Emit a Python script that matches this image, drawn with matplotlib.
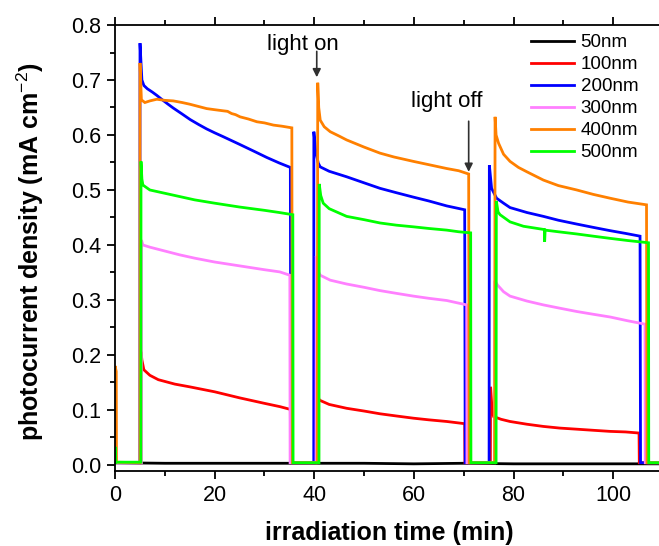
import matplotlib
matplotlib.use("Agg")
import matplotlib.pyplot as plt
from matplotlib.ticker import MultipleLocator

plt.rcParams['font.family'] = ['Liberation Sans', 'DejaVu Sans']
plt.rcParams['mathtext.fontset'] = 'custom'
plt.rcParams['mathtext.rm'] = 'Liberation Sans'
plt.rcParams['mathtext.it'] = 'Liberation Sans'
plt.rcParams['mathtext.bf'] = 'Liberation Sans:bold'

labels = ['50nm', '100nm', '200nm', '300nm', '400nm', '500nm']
colors = ['#000000', '#FF0000', '#0000FF', '#FF80FF', '#FF8000', '#00FF00']

# 50nm
t_50 = [0, 10, 20, 30, 40, 50, 60, 70, 80, 90, 100, 110]
v_50 = [0.004, 0.003, 0.003, 0.003, 0.003, 0.003, 0.002, 0.003, 0.002, 0.002, 0.002, 0.002]

# 100nm
t_100 = [0, 5.2, 5.22, 5.4, 5.8, 7, 8.7, 12, 15, 20, 25, 30, 33.1, 35.2, 35.25,
         40.15, 40.2, 40.6, 41, 43, 46.5, 50, 53.2, 56.5, 59.9, 63, 66.6, 70.2, 70.25,
         75.35, 75.4, 75.7, 76, 77.5, 79.3, 82.7, 86, 89.3, 92.7, 96, 99.4, 102.5, 105.2, 105.25, 110]
v_100 = [0.004, 0.004, 0.206, 0.191, 0.173, 0.163, 0.155, 0.147, 0.142, 0.133, 0.122, 0.112, 0.106, 0.101, 0.004,
         0.004, 0.167, 0.13, 0.118, 0.11, 0.103, 0.098, 0.093, 0.089, 0.085, 0.082, 0.079, 0.075, 0.004,
         0.004, 0.142, 0.1, 0.088, 0.083, 0.079, 0.074, 0.07, 0.067, 0.065, 0.063, 0.061, 0.06, 0.058, 0.004, 0.004]

# 200nm
t_200 = [0, 5.0, 5.02, 5.4, 5.8, 6.5, 7.5, 8.4, 9.5, 10.5, 11.7, 13.5, 15.1, 16.8, 18.4, 20, 21.7, 25, 28, 30.5, 33, 35.2, 35.3,
         39.9, 39.92, 40.3, 40.8, 41.2, 43, 46.5, 50, 53.2, 56.5, 59.9, 63, 66.6, 70.2, 70.3,
         75.1, 75.15, 75.6, 76.6, 78, 79.3, 82.7, 86, 89, 92.7, 96, 99.4, 102.5, 105.4, 105.5, 110]
v_200 = [0.004, 0.004, 0.767, 0.7, 0.69, 0.684, 0.678, 0.672, 0.664, 0.657, 0.649, 0.638, 0.628, 0.619, 0.611, 0.604, 0.597, 0.583, 0.57, 0.559, 0.549, 0.541, 0.004,
         0.004, 0.606, 0.57, 0.549, 0.542, 0.534, 0.524, 0.513, 0.503, 0.495, 0.487, 0.48, 0.471, 0.464, 0.004,
         0.004, 0.545, 0.503, 0.485, 0.476, 0.468, 0.459, 0.452, 0.445, 0.438, 0.432, 0.426, 0.421, 0.416, 0.004, 0.004]

# 300nm
t_300 = [0, 5.3, 5.32, 5.6, 7, 10, 13, 16, 20, 25, 30, 33.1, 35.1, 35.15,
         40.35, 40.4, 40.8, 41.2, 43.2, 46.5, 50, 53.2, 56.5, 59.9, 63, 66.6, 70.6, 70.65,
         76.2, 76.25, 76.8, 78, 79.3, 82.7, 86, 89.3, 92.7, 96, 99.4, 103, 106.4, 106.45, 110]
v_300 = [0.004, 0.004, 0.409, 0.4, 0.396, 0.389, 0.382, 0.376, 0.369, 0.362, 0.355, 0.351, 0.345, 0.004,
         0.004, 0.38, 0.352, 0.345, 0.336, 0.329, 0.323, 0.317, 0.312, 0.307, 0.303, 0.299, 0.291, 0.004,
         0.004, 0.335, 0.327, 0.315, 0.307, 0.298, 0.291, 0.285, 0.279, 0.274, 0.269, 0.262, 0.256, 0.004, 0.004]

# 400nm
t_400 = [0, 0.02, 0.25, 0.3, 5.0, 5.02, 5.3, 6.0, 7.0, 8.4, 10, 11.7, 13.5, 15, 16.7, 18.4, 20, 21.7, 22.6, 23.4, 24.2, 25.1,
         26.8, 28.5, 30, 31.8, 33.5, 35.5, 35.6,
         40.6, 40.7, 40.9, 41.2, 42, 43.2, 45, 46.5, 50, 53.2, 56, 59.9, 63, 66.6, 69, 71.0, 71.1,
         76.2, 76.3, 76.5, 77, 78, 79.3, 81, 82.7, 86, 89, 92.7, 96, 99.4, 103, 106.7, 106.8, 110]
v_400 = [0.004, 0.18, 0.17, 0.005, 0.004, 0.731, 0.664, 0.659, 0.662, 0.665, 0.663, 0.662, 0.659, 0.656, 0.652, 0.648, 0.646, 0.644, 0.643, 0.639, 0.637, 0.633,
         0.629, 0.624, 0.622, 0.618, 0.616, 0.613, 0.004,
         0.004, 0.695, 0.65, 0.627, 0.615, 0.606, 0.598, 0.591, 0.578, 0.567, 0.56, 0.552, 0.546, 0.539, 0.535, 0.529, 0.004,
         0.004, 0.633, 0.6, 0.585, 0.565, 0.552, 0.541, 0.533, 0.518, 0.508, 0.5, 0.492, 0.485, 0.478, 0.473, 0.004, 0.004]

# 500nm
t_500 = [0, 0.02, 0.1, 0.15, 5.2, 5.22, 5.4, 5.6, 7, 10, 13, 16, 20, 25, 30, 33, 35.7, 35.75,
         40.95, 41.0, 41.3, 41.8, 43, 46.5, 50, 53.2, 56.5, 59.9, 63, 66.6, 69, 71.4, 71.45,
         76.5, 76.55, 76.9, 77.3, 79.3, 82, 86.2, 86.25, 86.35, 89, 92.7, 96, 99.4, 103, 107.1, 107.15, 110]
v_500 = [0.004, 0.033, 0.02, 0.005, 0.005, 0.552, 0.52, 0.509, 0.5, 0.494, 0.488, 0.482, 0.476, 0.469, 0.463, 0.459, 0.455, 0.004,
         0.004, 0.511, 0.49, 0.476, 0.466, 0.452, 0.446, 0.44, 0.436, 0.433, 0.43, 0.427, 0.424, 0.422, 0.004,
         0.004, 0.48, 0.46, 0.455, 0.442, 0.434, 0.428, 0.406, 0.427, 0.424, 0.42, 0.416, 0.412, 0.408, 0.404, 0.004, 0.004]

series_t = [t_50, t_100, t_200, t_300, t_400, t_500]
series_v = [v_50, v_100, v_200, v_300, v_400, v_500]

fig = plt.figure(figsize=(6.59, 5.46), dpi=100)
ax = fig.add_axes([0.1745, 0.1374, 0.8315, 0.8168])

for t, v, c, lab in zip(series_t, series_v, colors, labels):
    ax.plot(t, v, color=c, lw=2.0, label=lab, solid_joinstyle='miter')

ax.set_xlim(0, 110)
ax.set_ylim(-0.011, 0.8)
ax.xaxis.set_major_locator(MultipleLocator(20))
ax.xaxis.set_minor_locator(MultipleLocator(10))
ax.yaxis.set_major_locator(MultipleLocator(0.1))
ax.yaxis.set_minor_locator(MultipleLocator(0.05))
ax.yaxis.set_major_formatter(matplotlib.ticker.FormatStrFormatter('%.1f'))

ax.tick_params(which='major', direction='out', length=6, width=1.3, labelsize=15.5, pad=4)
ax.tick_params(which='minor', direction='out', length=3.5, width=1.3)
ax.tick_params(axis='x', which='both', top=True, labeltop=False)
for sp in ax.spines.values():
    sp.set_linewidth(1.3)

ax.set_xlabel('irradiation time (min)', fontsize=18, fontweight='bold')
ax.set_ylabel(r'photocurrent density (mA cm$^{-2}$)', fontsize=18, fontweight='bold')
ax.xaxis.set_label_coords(0.5, -0.139)
ax.xaxis.label.set_va('center')
ax.yaxis.set_label_coords(-0.155, 0.491)
ax.yaxis.label.set_va('center')

ax.annotate('', xy=(40.5, 0.705), xytext=(40.5, 0.752),
            arrowprops=dict(arrowstyle='-|>', color='#303030', lw=1.2, mutation_scale=12, shrinkA=0, shrinkB=0))
ax.text(37.65, 0.765, 'light on', fontsize=16, ha='center', va='center')
ax.annotate('', xy=(71.0, 0.533), xytext=(71.0, 0.625),
            arrowprops=dict(arrowstyle='-|>', color='#303030', lw=1.2, mutation_scale=12, shrinkA=0, shrinkB=0))
ax.text(66.5, 0.66, 'light off', fontsize=16, ha='center', va='center')

leg = ax.legend(loc='upper left', bbox_to_anchor=(531 / 659, 1 - 34 / 546), bbox_transform=fig.transFigure,
                frameon=False, fontsize=13.5, handlelength=2.3, handletextpad=0.35, labelspacing=0.26,
                borderpad=0, borderaxespad=0)
for line in leg.get_lines():
    line.set_linewidth(2.0)

fig.savefig('out.png', dpi=100)
